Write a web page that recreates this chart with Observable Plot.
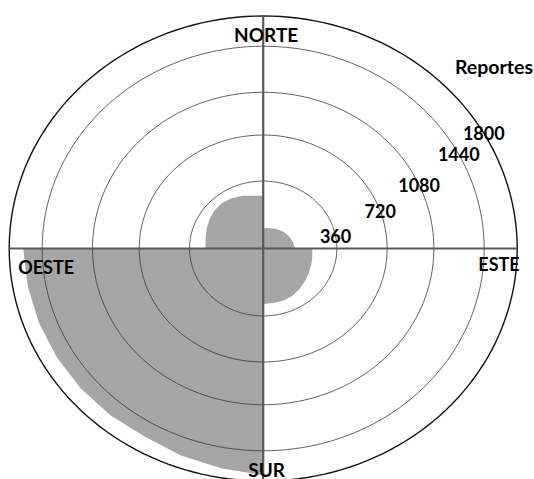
<!DOCTYPE html>
<html><head><meta charset="utf-8">
<script src="https://cdn.jsdelivr.net/npm/d3@7"></script>
<script src="https://cdn.jsdelivr.net/npm/@observablehq/plot@0.6"></script>
<style>body{margin:0;background:#fff} #chart{width:534px;height:479px;overflow:hidden}</style>
</head><body><div id="chart"></div>
<script>
// ---- data ----
const ringValues = [360, 720, 1080, 1440, 1800];
const tickLabels = ["360", "720", "1080", "1440", "1800"];
const directions = ["NORTE", "ESTE", "SUR", "OESTE"];
const directionBearing = [0, 90, 180, 270];
const quadrantStart = [0, 90, 180, 270];           // NE, SE, SW, NW (bearing, clockwise from north)
const stepDeg = [0, 10, 20, 30, 40, 50, 60, 70, 80, 90];
const reportesNE = [108, 111, 115, 121, 128, 134, 140, 146, 151, 154];
const reportesSE = [240, 244, 250, 258, 268, 279, 289, 295, 296, 296];
const reportesSW = [1731, 1689, 1656, 1617, 1623, 1626, 1628, 1631, 1637, 1648];
const reportesNW = [282, 286, 295, 305, 313, 315, 310, 300, 286, 282];
const axisTitle = "Reportes";

// ---- layout ----
const W = 534, H = 479, cx = 262.7, cy = 248, rx = 254, ry = 232.5;
const rScale = d3.scaleLinear().domain([0, 360, 720, 1080, 1440, 1800]).range([0, 0.29, 0.488, 0.672, 0.87, 1]);
function polar(b, v) { const r = rScale(v), a = b * Math.PI / 180; return {x: r * Math.sin(a), y: r * Math.cos(a)}; }

const series = [reportesNE, reportesSE, reportesSW, reportesNW];
const shape = [];
series.forEach((vals, q) => vals.forEach((v, i) => {
  const b = quadrantStart[q] + stepDeg[i];
  shape.push({bearing: b, value: v, ...polar(b, v)});
}));

const ringPts = ringValues.flatMap(v => d3.range(0, 361, 2).map(b => ({ring: v, ...polar(b, v)})));
const innerRings = ringPts.filter(d => d.ring < 1800);
const outerRing = ringPts.filter(d => d.ring === 1800);

// tick labels sit where each ring meets a gently curved guide (normalized coords)
const guide = u => 0.3505 * u * u + 0.3537 * u - 0.0755;
const ticks = ringValues.map((v, i) => {
  const r = rScale(v);
  let lo = 0, hi = r;
  for (let k = 0; k < 40; k++) {
    const u = (lo + hi) / 2, w = guide(u);
    if (u * u + w * w < r * r) lo = u; else hi = u;
  }
  return {value: v, label: tickLabels[i], x: lo, y: guide(lo)};
});

const dirs = directions.map((t, i) => ({label: t, ...polar(directionBearing[i], 1800)}));
const font = {fontFamily: "Lato, 'Open Sans', sans-serif", fontWeight: "bold", fill: "#000"};

const chart = Plot.plot({
  width: W, height: H, margin: 0,
  x: {domain: [-1, 1], range: [cx - rx, cx + rx], axis: null},
  y: {domain: [-1, 1], range: [cy + ry, cy - ry], axis: null},
  style: {background: "#fff", fontFamily: "Lato, 'Open Sans', sans-serif"},
  marks: [
    Plot.line(shape, {x: "x", y: "y", fill: "#a6a6a6", stroke: "none"}),
    Plot.line(innerRings, {x: "x", y: "y", z: "ring", stroke: "#3a3a3a", strokeWidth: 0.8}),
    Plot.line(outerRing, {x: "x", y: "y", stroke: "#111", strokeWidth: 1.4}),
    Plot.ruleY([0], {x1: -1, x2: 1, stroke: "#595959", strokeWidth: 2.2}),
    Plot.ruleX([0], {y1: -1, y2: 1, stroke: "#595959", strokeWidth: 2.2}),
    Plot.text(ticks, {x: "x", y: "y", text: "label", fontSize: 18, textAnchor: "middle", lineAnchor: "middle", dx: 0, dy: 1, ...font}),
    Plot.text(dirs.filter(d => d.label === "NORTE"), {x: "x", y: "y", text: "label", fontSize: 19, textAnchor: "middle", lineAnchor: "bottom", dx: 3, dy: 26, ...font}),
    Plot.text(dirs.filter(d => d.label === "ESTE"), {x: "x", y: "y", text: "label", fontSize: 18, textAnchor: "end", lineAnchor: "bottom", dx: 2.5, dy: 22.5, ...font}),
    Plot.text(dirs.filter(d => d.label === "SUR"), {x: "x", y: "y", text: "label", fontSize: 19, textAnchor: "middle", lineAnchor: "bottom", dx: 3.5, dy: -4.5, ...font}),
    Plot.text(dirs.filter(d => d.label === "OESTE"), {x: "x", y: "y", text: "label", fontSize: 18, textAnchor: "start", lineAnchor: "bottom", dx: 9, dy: 25.5, ...font}),
    Plot.text([axisTitle], {frameAnchor: "top-right", text: d => d, fontSize: 19.5, textAnchor: "end", lineAnchor: "bottom", dx: -1.5, dy: 73, ...font})
  ]
});
document.getElementById("chart").appendChild(chart);
</script>
</body></html>
